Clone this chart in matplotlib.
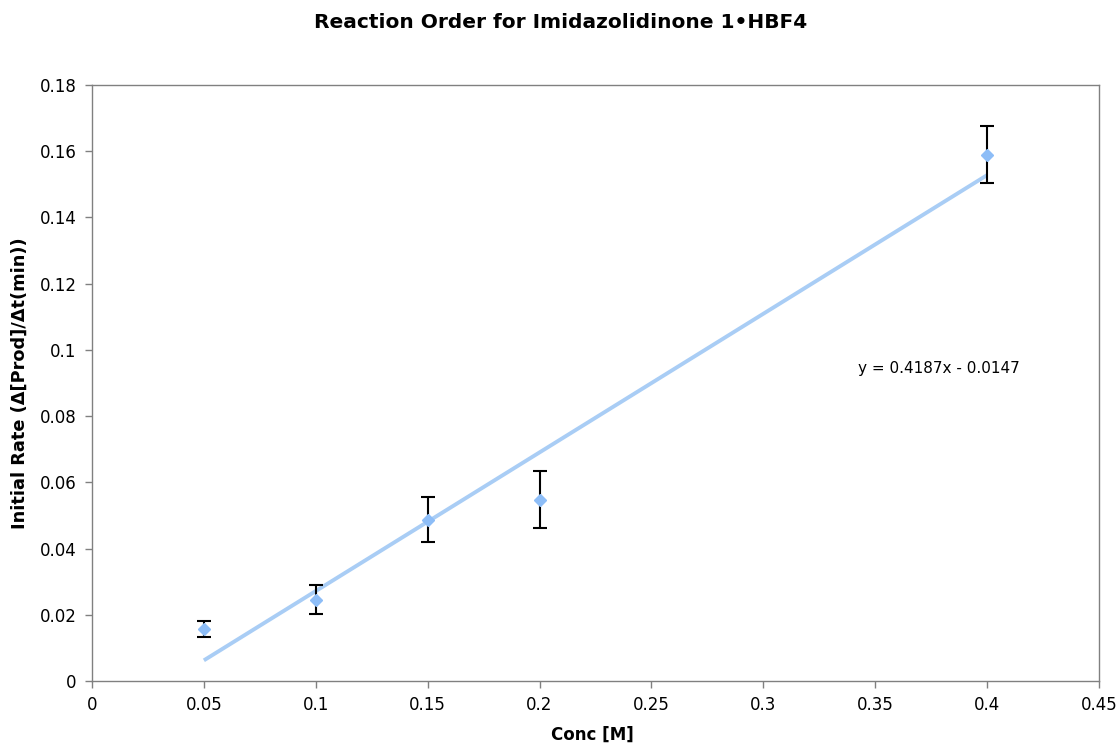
import matplotlib
matplotlib.use("Agg")
import matplotlib.pyplot as plt
import numpy as np

plt.rcParams['font.family'] = ['DejaVu Sans']

# Concentration [M] and measured initial rates with their uncertainties
conc = [0.05, 0.10, 0.15, 0.20, 0.40]
rate = [0.0158, 0.0245, 0.0487, 0.0548, 0.1590]
rate_err = [0.0024, 0.0044, 0.0068, 0.0087, 0.0086]

# Linear trendline
slope = 0.4187
intercept = -0.0147

xticks = [0, 0.05, 0.1, 0.15, 0.2, 0.25, 0.3, 0.35, 0.4, 0.45]
xtick_labels = ["0", "0.05", "0.1", "0.15", "0.2", "0.25", "0.3", "0.35", "0.4", "0.45"]
yticks = [0, 0.02, 0.04, 0.06, 0.08, 0.1, 0.12, 0.14, 0.16, 0.18]
ytick_labels = ["0", "0.02", "0.04", "0.06", "0.08", "0.1", "0.12", "0.14", "0.16", "0.18"]

W, H = 1117, 744
fig = plt.figure(figsize=(W / 100, H / 100), dpi=100)
ax = fig.add_axes([92 / W, 1 - 681 / H, (1099 - 92) / W, (681 - 85) / H])

# Trendline over the measured range
fx = np.array([min(conc), max(conc)])
ax.plot(fx, slope * fx + intercept, color="#A9CDF5", lw=2.8, solid_capstyle="butt", zorder=2)

# Error bars and data markers
ax.errorbar(conc, rate, yerr=rate_err, fmt="none", ecolor="black", elinewidth=1.5,
            capsize=5, capthick=1.5, zorder=3)
ax.plot(conc, rate, linestyle="none", marker="D", markersize=6,
        color="#8DBDF7", markeredgecolor="#8DBDF7", zorder=4)

ax.set_xlim(0, 0.45)
ax.set_ylim(0, 0.18)
ax.set_xticks(xticks)
ax.set_xticklabels(xtick_labels)
ax.set_yticks(yticks)
ax.set_yticklabels(ytick_labels)
ax.tick_params(axis="both", direction="out", length=5, width=1, color="#808080",
               labelsize=12, pad=6)
for sp in ax.spines.values():
    sp.set_color("#808080")
    sp.set_linewidth(1)

ax.text(0.3425, 0.0945, "y = 0.4187x - 0.0147", fontsize=11,
        ha="left", va="center")

fig.text(561 / W, 1 - 22 / H, "Reaction Order for Imidazolidinone 1\u2022HBF4",
         ha="center", va="center", fontsize=14.5, fontweight="bold")
fig.text(592 / W, 1 - 735 / H, "Conc [M]", ha="center", va="center",
         fontsize=12, fontweight="bold")
fig.text(20 / W, 1 - 383 / H, "Initial Rate (\u0394[Prod]/\u0394t(min))", ha="center",
         va="center", rotation=90, fontsize=12.8, fontweight="bold")

fig.savefig("out.png", dpi=100)
